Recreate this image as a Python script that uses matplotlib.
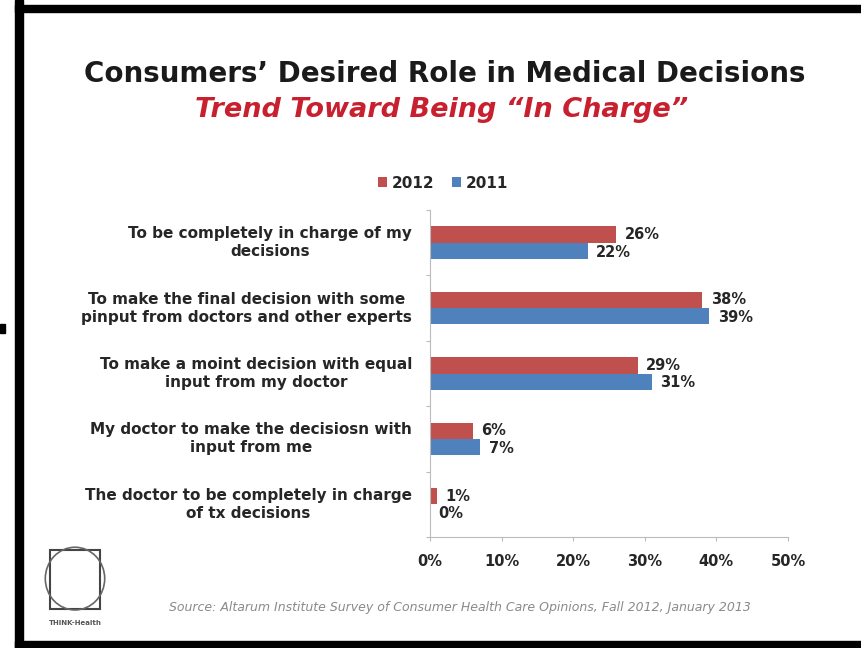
import matplotlib.pyplot as plt
import numpy as np
from matplotlib.patches import Rectangle, Circle

# Consumers' desired role in medical decisions, 2012 vs 2011 (% of respondents)
categories = [
    "To be completely in charge of my\ndecisions",
    "To make the final decision with some\npinput from doctors and other experts",
    "To make a moint decision with equal\ninput from my doctor",
    "My doctor to make the decisiosn with\ninput from me",
    "The doctor to be completely in charge\nof tx decisions",
]
pct_2012 = [26, 38, 29, 6, 1]
pct_2011 = [22, 39, 31, 7, 0]
x_ticks = [0, 10, 20, 30, 40, 50]

red = "#c0504d"
blue = "#4f81bd"
text_col = "#262626"

plt.rcParams["font.family"] = ["DejaVu Sans"]

fig = plt.figure(figsize=(8.61, 6.48), dpi=100)
fig.patch.set_facecolor("white")

# black frame of the slide (left, top, bottom edges)
for (x0, y0, w, h) in [(15, 0, 8, 648), (15, 636, 846, 7), (15, 0, 846, 7)]:
    fig.add_artist(Rectangle((x0 / 861, y0 / 648), w / 861, h / 648,
                             transform=fig.transFigure, color="black", zorder=10))
fig.add_artist(Rectangle((0, 315 / 648), 5 / 861, 9 / 648,
                         transform=fig.transFigure, color="black", zorder=10))

fig.text(445 / 861, 1 - 74 / 648, "Consumers\u2019 Desired Role in Medical Decisions",
         ha="center", va="center", fontsize=20, fontweight="bold", color="#1a1a1a")
fig.text(442 / 861, 1 - 110 / 648, "Trend Toward Being \u201cIn Charge\u201d",
         ha="center", va="center", fontsize=19.5, fontweight="bold",
         style="italic", color="#c8202e")

ax = fig.add_axes([430 / 861, 1 - 537 / 648, 358 / 861, 327 / 648])
y = np.arange(len(categories))
bh = 0.25
ax.barh(y - bh / 2, pct_2012, height=bh, color=red, label="2012")
ax.barh(y + bh / 2, pct_2011, height=bh, color=blue, label="2011")

for yi, v in zip(y, pct_2012):
    ax.text(v + 1.2, yi - bh / 2, f"{v}%", va="center", ha="left",
            fontsize=10.5, fontweight="bold", color=text_col)
for yi, v in zip(y, pct_2011):
    ax.text(v + 1.2, yi + bh / 2 + 0.02, f"{v}%", va="center", ha="left",
            fontsize=10.5, fontweight="bold", color=text_col)

ax.set_xlim(0, 50)
ax.set_ylim(4.5, -0.5)
ax.set_xticks(x_ticks)
ax.set_xticklabels([f"{t}%" for t in x_ticks], fontsize=10.5, fontweight="bold",
                   color=text_col)
ax.set_yticks(np.arange(-0.5, 5.0, 1.0), minor=False)
ax.set_yticklabels([])
ax.tick_params(axis="y", length=3, color="#bbbbbb")
ax.tick_params(axis="x", length=3, color="#bbbbbb", pad=9)
for s in ["top", "right"]:
    ax.spines[s].set_visible(False)
ax.spines["left"].set_color("#bbbbbb")
ax.spines["bottom"].set_color("#bbbbbb")

for yi, lab in zip(y, categories):
    ax.text(-2.5, yi, lab, ha="right", va="center", multialignment="center",
            fontsize=11, fontweight="bold", color=text_col, linespacing=1.25,
            transform=ax.transData)

leg = fig.legend(loc="center", bbox_to_anchor=(443 / 861, 1 - 183 / 648), ncol=2,
                 frameon=False, fontsize=11, handlelength=0.55, handleheight=0.55,
                 handletextpad=0.3, columnspacing=1.2)
for t in leg.get_texts():
    t.set_fontweight("bold")
    t.set_color(text_col)

fig.text(460 / 861, 1 - 607 / 648,
         "Source: Altarum Institute Survey of Consumer Health Care Opinions, Fall 2012, January 2013",
         ha="center", va="center", fontsize=9, style="italic", color="#8a8a8a")

# THINK-Health logo placeholder
lax = fig.add_axes([30 / 861, 1 - 628 / 648, 90 / 861, 95 / 648])
lax.set_xlim(0, 1)
lax.set_ylim(0, 1)
lax.axis("off")
lax.add_patch(Rectangle((0.22, 0.2), 0.56, 0.62, fill=False, lw=1.5, ec="#444444"))
lax.add_patch(Circle((0.5, 0.52), 0.33, fill=False, lw=1.2, ec="#666666"))
lax.text(0.5, 0.05, "THINK-Health", ha="center", va="center", fontsize=5,
         fontweight="bold", color="#555555")

fig.savefig("out.png", dpi=100)
